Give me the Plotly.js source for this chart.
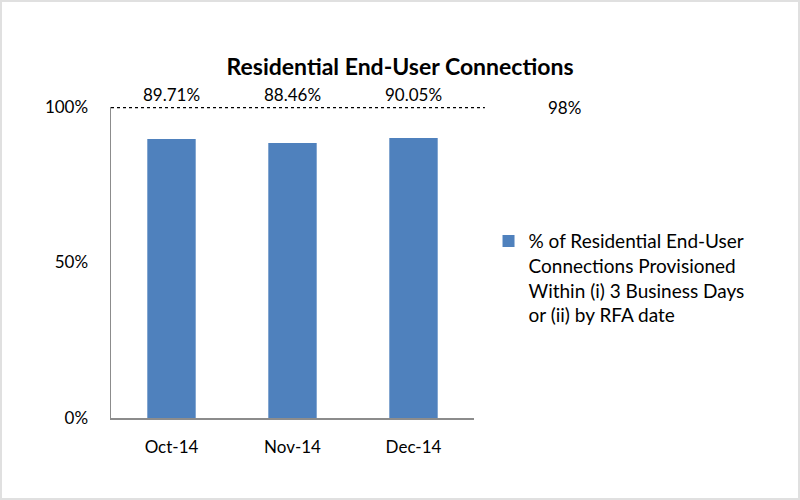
<!DOCTYPE html>
<html><head><meta charset="utf-8">
<script src="https://cdn.plot.ly/plotly-3.0.1.min.js"></script>
<style>html,body{margin:0;padding:0;background:#fff}#c{width:800px;height:500px;box-sizing:border-box;border:2px solid #e0e0e0}</style>
</head><body><div id="c"></div>
<script>
const months = ["Oct-14", "Nov-14", "Dec-14"];
const provisioned = [0.8971, 0.8846, 0.9005];
const valueLabels = ["89.71%", "88.46%", "90.05%"];
const targetLabel = "98%";
const seriesName = "% of Residential End-User<br>Connections Provisioned<br>Within (i) 3 Business Days<br>or (ii) by RFA date";
const yTicks = [0, 0.5, 1];
const yTickText = ["0%", "50%", "100%"];

const font = "Lato, 'Open Sans', sans-serif";
const data = [{
  type: "bar", x: months, y: provisioned, name: seriesName,
  marker: {color: "#4F81BD"}, width: 0.4, hoverinfo: "skip"
}];
const annotations = months.map((m, i) => ({
  x: m, y: 1, xref: "x", yref: "y", text: valueLabels[i], showarrow: false,
  yanchor: "bottom", yshift: 0, font: {family: font, size: 17, color: "#000"}
}));
annotations.push({
  x: 1.25, y: 1, xref: "paper", yref: "y", text: targetLabel, showarrow: false,
  xanchor: "center", yanchor: "middle", font: {family: font, size: 17, color: "#000"}
});
const layout = {
  width: 796, height: 496,
  margin: {l: 109, r: 324, t: 105, b: 80, pad: 0},
  paper_bgcolor: "#fff", plot_bgcolor: "#fff",
  title: {text: "<b>Residential End-User Connections</b>", x: 0.5, xref: "container", xanchor: "center",
          y: 0.885, yref: "container", font: {family: font, size: 23, color: "#000"}},
  font: {family: font, size: 17, color: "#000"},
  showlegend: true,
  legend: {x: 1.04, y: 0.45, xanchor: "left", yanchor: "middle", valign: "top",
           font: {family: font, size: 19, color: "#000"}, itemwidth: 30, tracegroupgap: 0},
  xaxis: {showline: true, linecolor: "#8c8c8c", linewidth: 1.5, ticks: "", showgrid: false,
          tickfont: {family: font, size: 17}, ticklabelstandoff: 13, fixedrange: true},
  yaxis: {range: [0, 1], tickvals: yTicks, ticktext: yTickText, showline: true, linecolor: "#8c8c8c",
          linewidth: 1.5, ticks: "", showgrid: false, zeroline: false, tickfont: {family: font, size: 17},
          ticklabelstandoff: 18, fixedrange: true},
  shapes: [{type: "line", xref: "paper", yref: "y", x0: 0, x1: 1.03, y0: 1, y1: 1,
            line: {color: "#000", width: 2.5, dash: "dot"}}],
  annotations: annotations
};
Plotly.newPlot("c", data, layout, {displayModeBar: false, staticPlot: true});
</script></body></html>
